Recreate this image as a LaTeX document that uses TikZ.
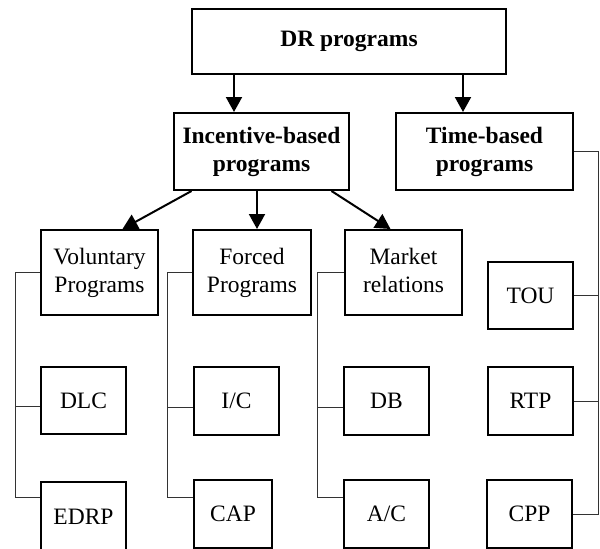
\documentclass[tikz,border=0pt]{standalone}
\usepackage{fontspec}
\setmainfont{Liberation Serif}
\usetikzlibrary{arrows.meta}

\begin{document}
\begin{tikzpicture}[x=1pt,y=-1pt,
    box/.style={draw,line width=2pt,inner sep=0pt,align=center,font=\fontsize{23.5}{28}\selectfont},
    hd/.style={box,font=\fontsize{23.5}{28}\selectfont\bfseries},
    sq/.style={box,minimum width=85,minimum height=68},
    arr/.style={line width=2pt,-{Triangle[length=15pt,width=16pt]}},
    br/.style={line width=1pt,black!80}]
    \useasboundingbox (0,0) rectangle (600,549);
    \node[hd,minimum width=314,minimum height=65] (dr) at (349,41.5) {DR programs};
    \node[hd,minimum width=175,minimum height=77] (inc) at (261.5,151.5) {Incentive-based\\programs};
    \node[hd,minimum width=177,minimum height=77] (tim) at (484.5,151.5) {Time-based\\programs};
    \node[box,minimum width=117,minimum height=85] (vol) at (99.5,272.5) {Voluntary\\Programs};
    \node[box,minimum width=118,minimum height=85] (frc) at (252,272.5) {Forced\\Programs};
    \node[box,minimum width=117,minimum height=85] (mkt) at (403.5,272.5) {Market\\relations\vphantom{g}};
    \node[sq,minimum height=67] (tou) at (530.5,295.5) {TOU};
    \node[sq,minimum height=67] (dlc) at (83.5,400.5) {DLC};
    \node[sq] (ic) at (236.5,401) {I/C};
    \node[sq] (db) at (386.5,401) {DB};
    \node[sq] (rtp) at (530.5,401) {RTP};
    \node[sq,minimum height=70] (edrp) at (83.5,517) {EDRP};
    \node[sq,minimum width=78] (cap) at (233,514) {CAP};
    \node[sq] (ac) at (386.5,514) {A/C};
    \node[sq] (cpp) at (529.5,514) {CPP};
    % arrows
    \draw[arr] ([xshift=-27.5pt]inc.north |- dr.south) -- ([xshift=-27.5pt]inc.north);
    \draw[arr] ([xshift=-21.5pt]tim.north |- dr.south) -- ([xshift=-21.5pt]tim.north);
    \draw[arr] ([xshift=-70pt]inc.south) -- ([xshift=23pt]vol.north);
    \draw[arr] ([xshift=-4.5pt]inc.south) -- ([xshift=-4.5pt]inc.south |- frc.north);
    \draw[arr] ([xshift=70pt]inc.south) -- ([xshift=-13pt]mkt.north);
    % brackets
    \draw[br] (vol.west) -- ++(-25,0) |- ([yshift=20pt]edrp.west);
    \draw[br] ([yshift=-6pt]dlc.west) -- ++(-25,0);
    \draw[br] (frc.west) -- ++(-25,0) |- ([yshift=17pt]cap.west);
    \draw[br] ([yshift=-6pt]ic.west) -- ++(-26,0);
    \draw[br] (mkt.west) -- ++(-27,0) |- ([yshift=17pt]ac.west);
    \draw[br] ([yshift=-6pt]db.west) -- ++(-26,0);
    \draw[br] (tim.east) -- ++(24,0) coordinate (tr) |- (cpp.east);
    \draw[br] (tou.east) -- (tou.east -| tr);
    \draw[br] (rtp.east) -- (rtp.east -| tr);
\end{tikzpicture}
\end{document}
